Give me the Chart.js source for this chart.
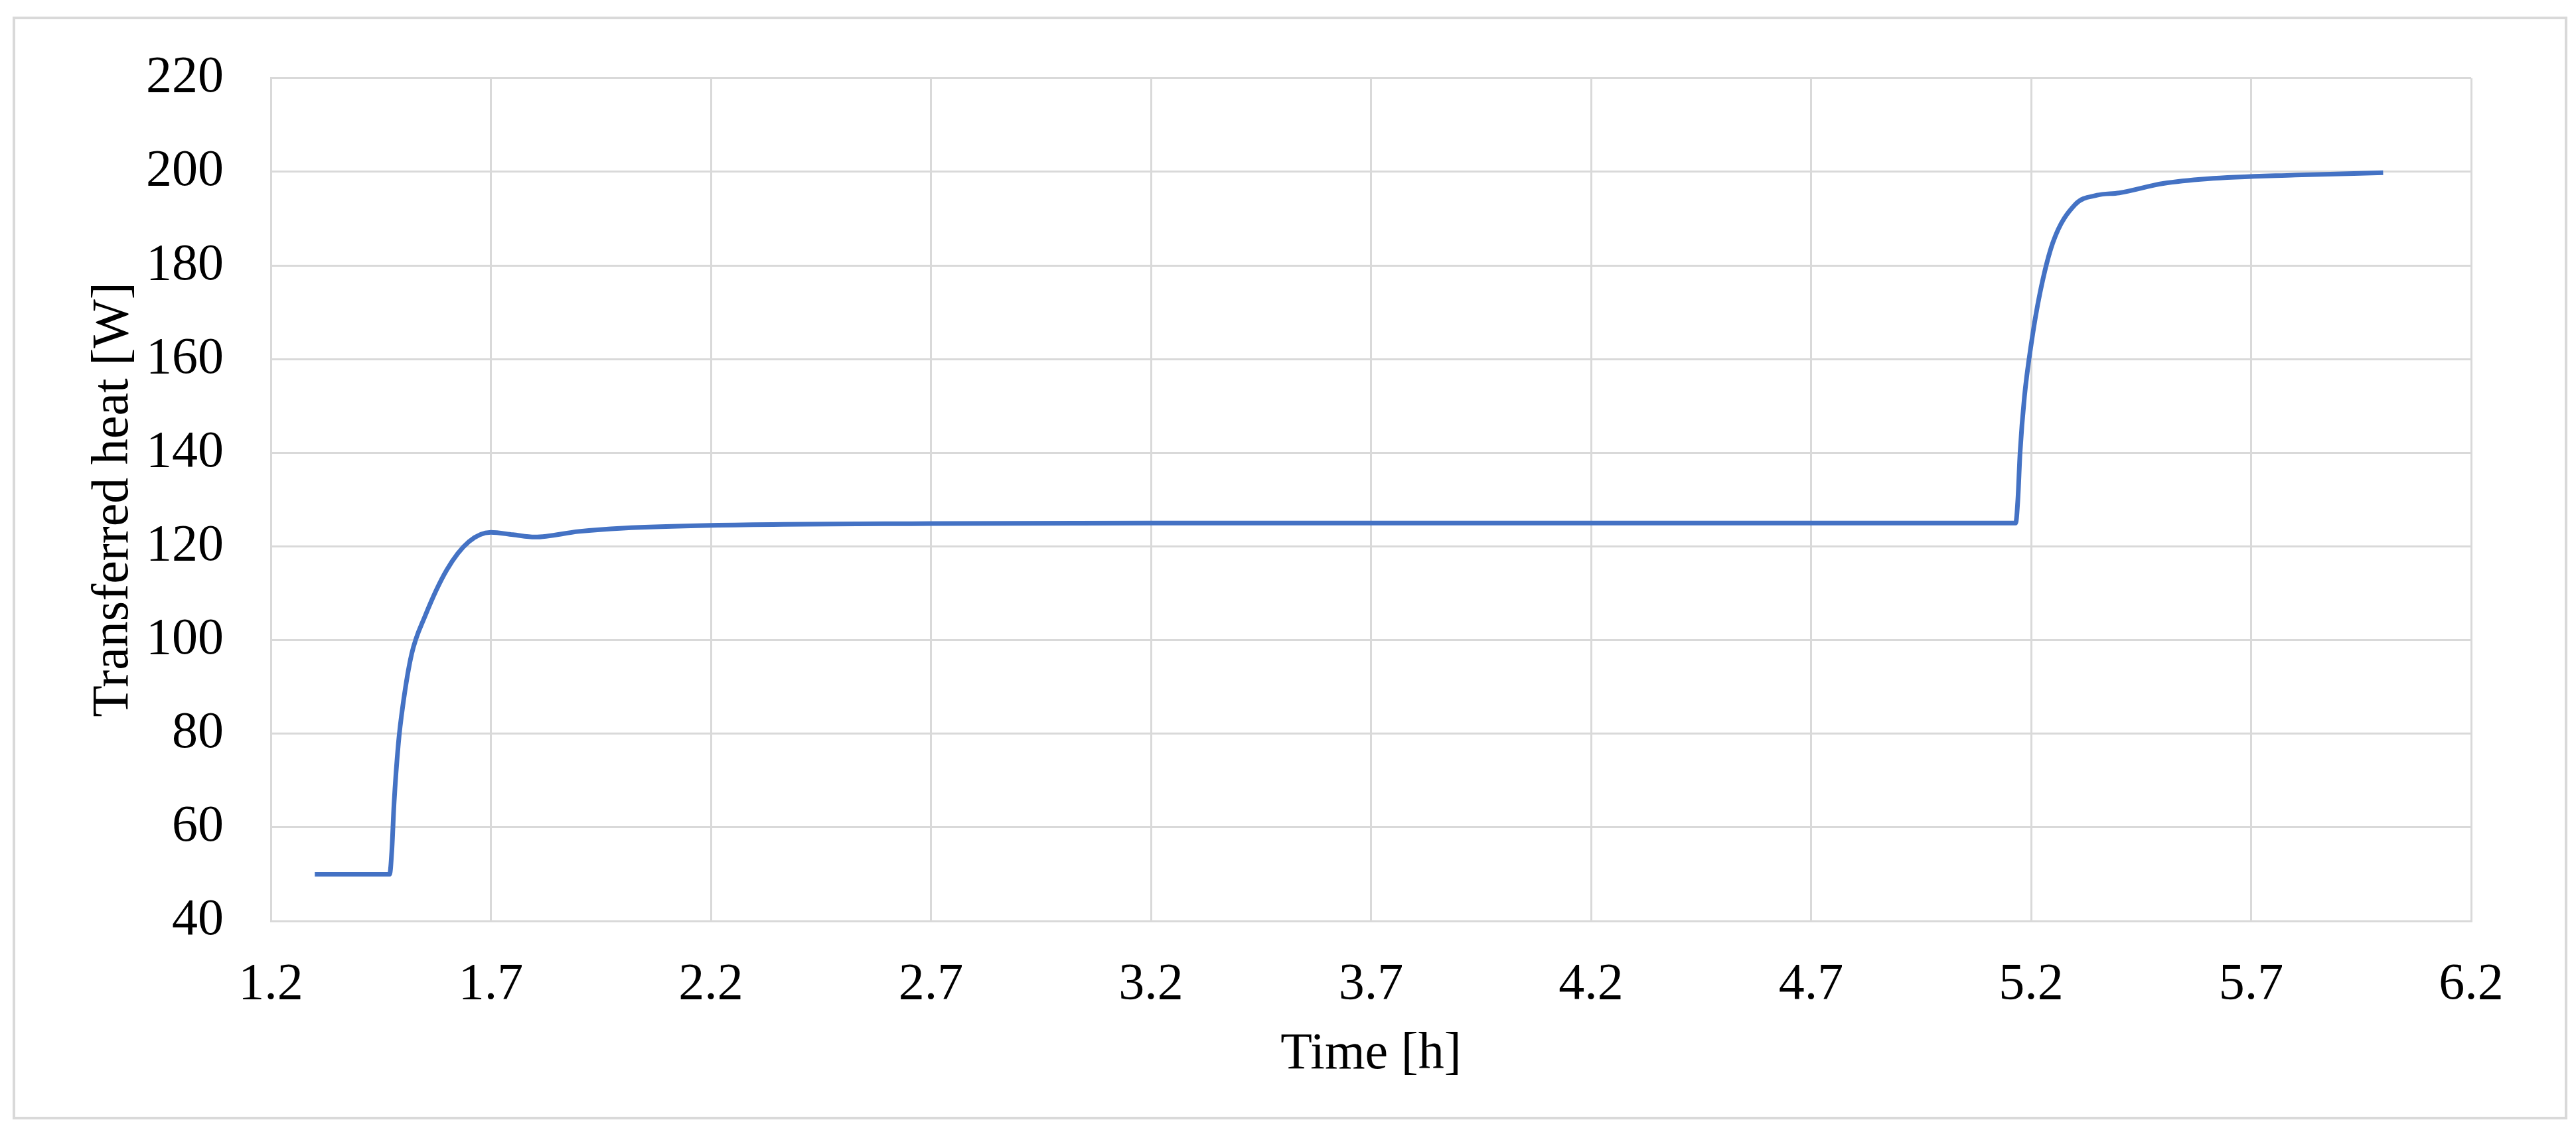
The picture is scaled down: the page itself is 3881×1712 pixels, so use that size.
<!DOCTYPE html>
<html><head><meta charset="utf-8">
<script src="https://cdn.jsdelivr.net/npm/chart.js@4/dist/chart.umd.min.js"></script>
<style>html,body{margin:0;padding:0;background:#fff}#c{display:block}</style>
</head><body><div style="width:3881px;height:1712px"><canvas id="c" width="3881" height="1712"></canvas></div>
<script>
const timeH = [1.3,1.4,1.47,1.475,1.48,1.49,1.5,1.52,1.55,1.6,1.65,1.7,1.75,1.8,1.9,2.0,2.2,2.7,3.2,4.2,5.165,5.17,5.175,5.185,5.2,5.22,5.25,5.3,5.35,5.4,5.5,5.6,5.8,6.0];
const heatW = [50,50,50,55,65,78,86,97,105,115,121,123,122.5,122,123.2,123.9,124.5,124.9,125,125,125,130,140,152,163,174,185,193,195,195.5,197.5,198.5,199.3,199.8];
const xTicks = {min:1.2,max:6.2,step:0.5};
const yTicks = {min:40,max:220,step:20};

const frame = {id:'frame',beforeDraw(c){const g=c.ctx;g.save();g.fillStyle='#fff';g.fillRect(0,0,c.width,c.height);g.strokeStyle='#d9d9d9';g.lineWidth=4;g.strokeRect(21,27,3845,1658);g.restore();}};
const font = {family:'"Liberation Serif", "Times New Roman", serif', size:78};
new Chart(document.getElementById('c'),{
  type:'line',
  data:{datasets:[{data:timeH.map((x,i)=>({x,y:heatW[i]})),borderColor:'#4472C4',borderWidth:7,pointRadius:0,cubicInterpolationMode:'monotone',fill:false}]},
  options:{responsive:false,animation:false,devicePixelRatio:1,
    layout:{padding:{left:125,top:46,right:158,bottom:72}},
    plugins:{legend:{display:false},tooltip:{enabled:false}},
    scales:{
      x:{type:'linear',min:xTicks.min,max:xTicks.max,afterFit(s){s.height=252;},
        ticks:{stepSize:xTicks.step,color:'#000',font,padding:50,callback:v=>(+v).toFixed(1)},
        grid:{color:'#d9d9d9',lineWidth:3,drawTicks:false},border:{color:'#d9d9d9',width:3},
        title:{display:true,text:'Time [h]',color:'#000',font,padding:{top:10}}},
      y:{min:yTicks.min,max:yTicks.max,afterFit(s){s.width=283;},
        ticks:{stepSize:yTicks.step,color:'#000',font,padding:71},
        grid:{color:'#d9d9d9',lineWidth:3,drawTicks:false},border:{color:'#d9d9d9',width:3},
        title:{display:true,text:'Transferred heat [W]',color:'#000',font,padding:{top:0,bottom:0}}}
    }},
  plugins:[frame]
});
</script></body></html>
